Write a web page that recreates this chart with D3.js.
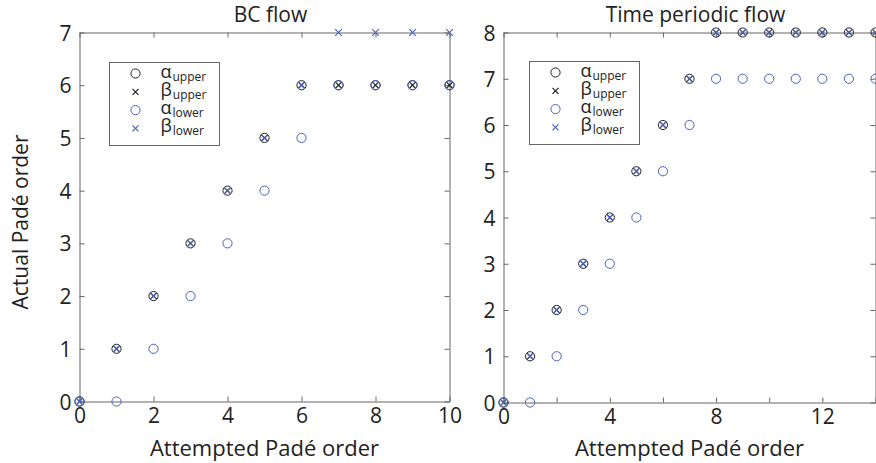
<!DOCTYPE html>
<html>
<head>
<meta charset="utf-8">
<script src="https://cdn.jsdelivr.net/npm/d3@7"></script>
<style>
  body { margin: 0; background: #fff; }
  text { font-family: "Open Sans", "Noto Sans", sans-serif; fill: #222; }
</style>
</head>
<body>
<svg id="chart" width="876" height="463"></svg>
<script>
// BC flow
const bcAttempted = [0, 1, 2, 3, 4, 5, 6, 7, 8, 9, 10];
const bcAlphaUpper = [0, 1, 2, 3, 4, 5, 6, 6, 6, 6, 6];
const bcBetaUpper = [0, 1, 2, 3, 4, 5, 6, 6, 6, 6, 6];
const bcAlphaLower = [0, 0, 1, 2, 3, 4, 5, 6, 6, 6, 6];
const bcBetaLower = [0, 1, 2, 3, 4, 5, 6, 7, 7, 7, 7];

// Time periodic flow
const tpAttempted = [0, 1, 2, 3, 4, 5, 6, 7, 8, 9, 10, 11, 12, 13, 14];
const tpAlphaUpper = [0, 1, 2, 3, 4, 5, 6, 7, 8, 8, 8, 8, 8, 8, 8];
const tpBetaUpper = [0, 1, 2, 3, 4, 5, 6, 7, 8, 8, 8, 8, 8, 8, 8];
const tpAlphaLower = [0, 0, 1, 2, 3, 4, 5, 6, 7, 7, 7, 7, 7, 7, 7];
const tpBetaLower = [0, 1, 2, 3, 4, 5, 6, 7, 8, 8, 8, 8, 8, 8, 8];

const bcXTicks = [0, 2, 4, 6, 8, 10];
const bcXLabels = [0, 2, 4, 6, 8, 10];
const bcYTicks = [0, 1, 2, 3, 4, 5, 6, 7];
const tpXTicks = [0, 2, 4, 6, 8, 10, 12, 14];
const tpXLabels = [0, 4, 8, 12];
const tpYTicks = [0, 1, 2, 3, 4, 5, 6, 7, 8];

const seriesNames = ["upper", "upper", "lower", "lower"];
const seriesGreek = ["α", "β", "α", "β"];
const seriesShape = ["circle", "cross", "circle", "cross"];

const black = "#222";
const blue = "#4a63bd";
const axisColor = "#666";
const seriesColor = [black, black, blue, blue];

const svg = d3.select("#chart");

function drawPanel(opt) {
  const x = d3.scaleLinear().domain(opt.xDomain).range([opt.left, opt.right]);
  const y = d3.scaleLinear().domain(opt.yDomain).range([opt.bottom, opt.top]);
  const g = svg.append("g");

  const bottomAxis = d3.axisBottom(x)
    .tickValues(opt.xTicks)
    .tickFormat(d => opt.xLabels.includes(d) ? d : "")
    .tickSizeInner(-5).tickSizeOuter(0).tickPadding(5);
  const topAxis = d3.axisTop(x).tickValues(opt.xTicks).tickFormat("")
    .tickSizeInner(-5).tickSizeOuter(0);
  const leftAxis = d3.axisLeft(y).tickValues(opt.yTicks).tickFormat(d3.format("d"))
    .tickSizeInner(-5).tickSizeOuter(0).tickPadding(8);
  const rightAxis = d3.axisRight(y).tickValues(opt.yTicks).tickFormat("")
    .tickSizeInner(-5).tickSizeOuter(0);

  const gb = g.append("g").attr("transform", `translate(0,${opt.bottom})`).call(bottomAxis);
  const gt = g.append("g").attr("transform", `translate(0,${opt.top})`).call(topAxis);
  const gl = g.append("g").attr("transform", `translate(${opt.left},0)`).call(leftAxis);
  const gr = g.append("g").attr("transform", `translate(${opt.right},0)`).call(rightAxis);
  [gb, gt, gl, gr].forEach(a => {
    a.selectAll("path, line").attr("stroke", axisColor);
    a.selectAll("text").style("font-size", "21px").attr("fill", "#222");
  });
  gb.selectAll("text").attr("dy", "0.8em");
  gl.selectAll("text").attr("dy", "0.36em");

  // title
  g.append("text")
    .attr("x", (opt.left + opt.right) / 2 + 6)
    .attr("y", 22)
    .attr("text-anchor", "middle")
    .style("font-size", "21px")
    .text(opt.title);

  // x label
  g.append("text")
    .attr("x", (opt.left + opt.right) / 2)
    .attr("y", 456)
    .attr("text-anchor", "middle")
    .style("font-size", "22px")
    .text("Attempted Padé order");

  // data
  const series = [opt.alphaUpper, opt.betaUpper, opt.alphaLower, opt.betaLower];
  series.forEach((vals, i) => {
    const pts = opt.attempted.map((a, k) => ({ a, v: vals[k] }));
    const sg = g.append("g");
    if (seriesShape[i] === "circle") {
      sg.selectAll("circle").data(pts).join("circle")
        .attr("cx", d => x(d.a))
        .attr("cy", d => y(d.v))
        .attr("r", 4.6)
        .attr("fill", "none")
        .attr("stroke", seriesColor[i])
        .attr("stroke-width", 1);
    } else {
      const s = 3.3;
      sg.selectAll("path").data(pts).join("path")
        .attr("d", d => {
          const cx = x(d.a), cy = y(d.v);
          return `M${cx - s},${cy - s}L${cx + s},${cy + s}M${cx - s},${cy + s}L${cx + s},${cy - s}`;
        })
        .attr("fill", "none")
        .attr("stroke", seriesColor[i])
        .attr("stroke-width", 1.2);
    }
  });

  // legend
  const lg = g.append("g").attr("transform", `translate(${opt.legendX},${opt.legendY})`);
  lg.append("rect")
    .attr("width", 110).attr("height", 83)
    .attr("fill", "#fff").attr("stroke", axisColor).attr("stroke-width", 1);
  seriesNames.forEach((name, i) => {
    const ry = 11 + i * 18.3;
    if (seriesShape[i] === "circle") {
      lg.append("circle").attr("cx", 26).attr("cy", ry).attr("r", 4.6)
        .attr("fill", "none").attr("stroke", seriesColor[i]);
    } else {
      const s = 3;
      lg.append("path")
        .attr("d", `M${26 - s},${ry - s}L${26 + s},${ry + s}M${26 - s},${ry + s}L${26 + s},${ry - s}`)
        .attr("stroke", seriesColor[i]).attr("stroke-width", 1.2);
    }
    const t = lg.append("text").attr("x", 51).attr("y", ry + 4);
    t.append("tspan").style("font-size", "18px").text(seriesGreek[i]);
    t.append("tspan").attr("dy", 3).attr("dx", 1).style("font-size", "12px").text(name);
  });
}

drawPanel({
  title: "BC flow",
  left: 79.5, right: 449.5, top: 32.5, bottom: 401.5,
  xDomain: [0, 10], yDomain: [0, 7],
  xTicks: bcXTicks, xLabels: bcXLabels, yTicks: bcYTicks,
  attempted: bcAttempted,
  alphaUpper: bcAlphaUpper, betaUpper: bcBetaUpper,
  alphaLower: bcAlphaLower, betaLower: bcBetaLower,
  legendX: 109.5, legendY: 62.5
});

drawPanel({
  title: "Time periodic flow",
  left: 503.5, right: 875.5, top: 32.5, bottom: 402.5,
  xDomain: [0, 14], yDomain: [0, 8],
  xTicks: tpXTicks, xLabels: tpXLabels, yTicks: tpYTicks,
  attempted: tpAttempted,
  alphaUpper: tpAlphaUpper, betaUpper: tpBetaUpper,
  alphaLower: tpAlphaLower, betaLower: tpBetaLower,
  legendX: 529.5, legendY: 61.5
});

// shared y label
svg.append("text")
  .attr("transform", "translate(28,222) rotate(-90)")
  .attr("text-anchor", "middle")
  .style("font-size", "21px")
  .text("Actual Padé order");
</script>
</body>
</html>
